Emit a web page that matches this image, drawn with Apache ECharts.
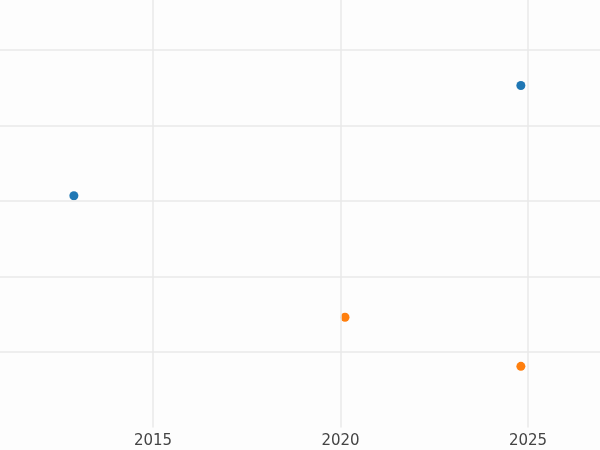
<!DOCTYPE html>
<html>
<head>
<meta charset="utf-8">
<script src="https://cdn.jsdelivr.net/npm/echarts@6/dist/echarts.min.js"></script>
<style>html,body{margin:0;padding:0;background:#fdfdfd}#main{width:600px;height:450px}</style>
</head>
<body>
<div id="main"></div>
<script>
// point data
var blueYears = [2012.89, 2024.81];
var blueValues = [3.07, 4.53];
var orangeYears = [2020.12, 2024.81];
var orangeValues = [1.46, 0.81];
var xTicks = [2015, 2020, 2025];
var yTicks = [1, 2, 3, 4, 5];

function pairs(xs, ys) {
    var out = [];
    for (var i = 0; i < xs.length; i++) out.push([xs[i], ys[i]]);
    return out;
}

var gridLines = [];
xTicks.forEach(function (v) { gridLines.push({xAxis: v}); });
yTicks.forEach(function (v) { gridLines.push({yAxis: v}); });

var myChart = echarts.init(document.getElementById('main'));
var option = {
    backgroundColor: '#fdfdfd',
    animation: false,
    grid: {left: 0, right: 0, top: 0, bottom: 22.5},
    xAxis: {
        type: 'value', min: 2010.92, max: 2026.92,
        axisLine: {show: false}, axisTick: {show: false},
        axisLabel: {color: '#444', fontSize: 15, fontFamily: 'DejaVu Sans', margin: 6,
            customValues: xTicks, formatter: function (v) { return String(v); }},
        splitLine: {show: false}
    },
    yAxis: {
        type: 'value', min: 0, max: 5.662,
        axisLine: {show: false}, axisTick: {show: false}, axisLabel: {show: false},
        splitLine: {show: false}
    },
    series: [
        {type: 'scatter', data: pairs(blueYears, blueValues), symbolSize: 9,
            itemStyle: {color: '#1f77b4', opacity: 1},
            markLine: {silent: true, symbol: 'none', label: {show: false},
                lineStyle: {color: '#e8e8e8', width: 1.5, type: 'solid'}, data: gridLines}},
        {type: 'scatter', data: pairs(orangeYears, orangeValues), symbolSize: 9,
            itemStyle: {color: '#ff7f0e', opacity: 1}}
    ]
};
myChart.setOption(option);
</script>
</body>
</html>
